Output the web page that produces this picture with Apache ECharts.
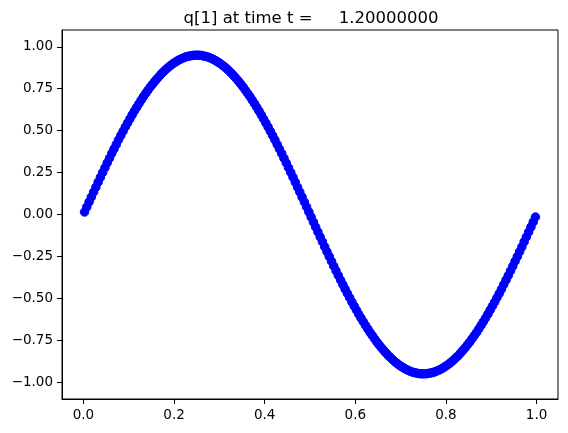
<!DOCTYPE html>
<html><head><meta charset="utf-8">
<script src="https://cdn.jsdelivr.net/npm/echarts@6/dist/echarts.min.js"></script>
<style>html,body{margin:0;padding:0;background:#fff}#c{width:568px;height:433px}</style>
</head><body><div id="c"></div>
<script>
const titleText = 'q[1] at time t =     1.20000000';
const xTicks = [0, 0.2, 0.4, 0.6, 0.8, 1.0];
const yTicks = [-1.0, -0.75, -0.5, -0.25, 0, 0.25, 0.5, 0.75, 1.0];
const xValues = [
0.0025,0.0075,0.0125,0.0175,0.0225,0.0275,0.0325,0.0375,0.0425,0.0475,
0.0525,0.0575,0.0625,0.0675,0.0725,0.0775,0.0825,0.0875,0.0925,0.0975,
0.1025,0.1075,0.1125,0.1175,0.1225,0.1275,0.1325,0.1375,0.1425,0.1475,
0.1525,0.1575,0.1625,0.1675,0.1725,0.1775,0.1825,0.1875,0.1925,0.1975,
0.2025,0.2075,0.2125,0.2175,0.2225,0.2275,0.2325,0.2375,0.2425,0.2475,
0.2525,0.2575,0.2625,0.2675,0.2725,0.2775,0.2825,0.2875,0.2925,0.2975,
0.3025,0.3075,0.3125,0.3175,0.3225,0.3275,0.3325,0.3375,0.3425,0.3475,
0.3525,0.3575,0.3625,0.3675,0.3725,0.3775,0.3825,0.3875,0.3925,0.3975,
0.4025,0.4075,0.4125,0.4175,0.4225,0.4275,0.4325,0.4375,0.4425,0.4475,
0.4525,0.4575,0.4625,0.4675,0.4725,0.4775,0.4825,0.4875,0.4925,0.4975,
0.5025,0.5075,0.5125,0.5175,0.5225,0.5275,0.5325,0.5375,0.5425,0.5475,
0.5525,0.5575,0.5625,0.5675,0.5725,0.5775,0.5825,0.5875,0.5925,0.5975,
0.6025,0.6075,0.6125,0.6175,0.6225,0.6275,0.6325,0.6375,0.6425,0.6475,
0.6525,0.6575,0.6625,0.6675,0.6725,0.6775,0.6825,0.6875,0.6925,0.6975,
0.7025,0.7075,0.7125,0.7175,0.7225,0.7275,0.7325,0.7375,0.7425,0.7475,
0.7525,0.7575,0.7625,0.7675,0.7725,0.7775,0.7825,0.7875,0.7925,0.7975,
0.8025,0.8075,0.8125,0.8175,0.8225,0.8275,0.8325,0.8375,0.8425,0.8475,
0.8525,0.8575,0.8625,0.8675,0.8725,0.8775,0.8825,0.8875,0.8925,0.8975,
0.9025,0.9075,0.9125,0.9175,0.9225,0.9275,0.9325,0.9375,0.9425,0.9475,
0.9525,0.9575,0.9625,0.9675,0.9725,0.9775,0.9825,0.9875,0.9925,0.9975
];
const qValues = [
0.015,0.045,0.075,0.104,0.134,0.163,0.193,0.222,0.251,0.279,
0.308,0.336,0.364,0.391,0.418,0.445,0.471,0.496,0.522,0.546,
0.570,0.594,0.617,0.639,0.661,0.682,0.703,0.722,0.741,0.760,
0.777,0.794,0.810,0.825,0.840,0.853,0.866,0.878,0.889,0.899,
0.908,0.916,0.924,0.930,0.936,0.941,0.944,0.947,0.949,0.950,
0.950,0.949,0.947,0.944,0.941,0.936,0.930,0.924,0.916,0.908,
0.899,0.889,0.878,0.866,0.853,0.840,0.825,0.810,0.794,0.777,
0.760,0.741,0.722,0.703,0.682,0.661,0.639,0.617,0.594,0.570,
0.546,0.522,0.496,0.471,0.445,0.418,0.391,0.364,0.336,0.308,
0.279,0.251,0.222,0.193,0.163,0.134,0.104,0.075,0.045,0.015,
-0.015,-0.045,-0.075,-0.104,-0.134,-0.163,-0.193,-0.222,-0.251,-0.279,
-0.308,-0.336,-0.364,-0.391,-0.418,-0.445,-0.471,-0.496,-0.522,-0.546,
-0.570,-0.594,-0.617,-0.639,-0.661,-0.682,-0.703,-0.722,-0.741,-0.760,
-0.777,-0.794,-0.810,-0.825,-0.840,-0.853,-0.866,-0.878,-0.889,-0.899,
-0.908,-0.916,-0.924,-0.930,-0.936,-0.941,-0.944,-0.947,-0.949,-0.950,
-0.950,-0.949,-0.947,-0.944,-0.941,-0.936,-0.930,-0.924,-0.916,-0.908,
-0.899,-0.889,-0.878,-0.866,-0.853,-0.840,-0.825,-0.810,-0.794,-0.777,
-0.760,-0.741,-0.722,-0.703,-0.682,-0.661,-0.639,-0.617,-0.594,-0.570,
-0.546,-0.522,-0.496,-0.471,-0.445,-0.418,-0.391,-0.364,-0.336,-0.308,
-0.279,-0.251,-0.222,-0.193,-0.163,-0.134,-0.104,-0.075,-0.045,-0.015
];
const points = xValues.map((x, i) => [x, qValues[i]]);
const FONT = 'DejaVu Sans';
const fmt = (v, d) => { const s = Math.abs(v).toFixed(d); return (v < -1e-9 ? '\u2212' : '') + s; };
const chart = echarts.init(document.getElementById('c'), null, {renderer: 'canvas'});
chart.setOption({
  animation: false,
  backgroundColor: '#ffffff',
  title: {
    text: titleText, left: 306, top: 5, textAlign: 'center',
    textStyle: {fontFamily: FONT, fontSize: 16.5, fontWeight: 'normal', color: '#000'}
  },
  grid: {left: 62, right: 10, top: 30, bottom: 34, show: true, borderColor: '#000', borderWidth: 1, backgroundColor: 'transparent'},
  xAxis: {
    type: 'value', min: -0.04725, max: 1.04725, position: 'bottom',
    splitLine: {show: false},
    axisLine: {show: true, onZero: false, lineStyle: {color: '#000', width: 1}},
    axisTick: {show: true, inside: false, length: 5, lineStyle: {color: '#000', width: 1}, customValues: xTicks},
    axisLabel: {show: true, margin: 9, fontFamily: FONT, fontSize: 13.5, color: '#000', customValues: xTicks, formatter: v => fmt(v, 1), showMinLabel: true, showMaxLabel: true}
  },
  yAxis: {
    type: 'value', min: -1.1, max: 1.1, position: 'left',
    splitLine: {show: false},
    axisLine: {show: true, onZero: false, lineStyle: {color: '#000', width: 1}},
    axisTick: {show: true, inside: false, length: 5, lineStyle: {color: '#000', width: 1}, customValues: yTicks},
    axisLabel: {show: true, margin: 9, fontFamily: FONT, fontSize: 13.5, color: '#000', customValues: yTicks, formatter: v => fmt(v, 2)}
  },
  series: [{
    type: 'scatter', data: points, symbol: 'circle', symbolSize: 8.5,
    itemStyle: {color: '#0000ff', opacity: 1, borderColor: '#0000ff', borderWidth: 1},
    silent: true
  }]
});
</script></body></html>
